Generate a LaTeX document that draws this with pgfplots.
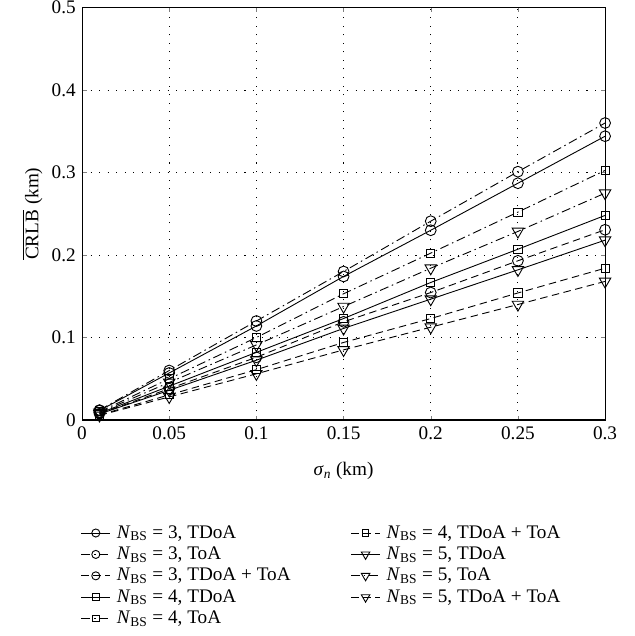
\documentclass[border=0pt,12pt]{standalone}
\usepackage{pgfplots}
\pgfplotsset{compat=1.18}
\usepackage{fontspec}
\setmainfont{Liberation Serif}
\newcommand{\NBS}{\textit{N}\textsubscript{BS}}
\begin{document}
\begin{tikzpicture}[font=\fontsize{12.8}{15}\selectfont]
\useasboundingbox (-54.7pt,-144pt) rectangle ++(423.3pt,424pt);
\begin{axis}[
  at={(0,0)}, anchor=south west,
  scale only axis,
  width=348.7pt, height=275pt,
  xmin=0, xmax=0.3, ymin=0, ymax=0.5,
  xtick={0,0.05,0.1,0.15,0.2,0.25,0.3},
  ytick={0,0.1,0.2,0.3,0.4,0.5},
  xticklabels={0,0.05,0.1,0.15,0.2,0.25,0.3},
  yticklabels={0,0.1,0.2,0.3,0.4,0.5},
  tick align=inside,
  major tick length=3pt,
  grid=major,
  major grid style={black, line width=0.6pt, dash pattern=on 0.7pt off 5pt},
  axis line style={line width=0.7pt},
  xlabel={\textit{σ}\textsubscript{\textit{n}} (km)},
  xlabel style={yshift=-7pt},
  ylabel={$\overline{\mbox{CRLB}}$ (km)},
  ylabel style={yshift=-2pt},
  every axis plot/.append style={black, line width=0.6pt},
  legend columns=2,
  legend cell align=left,
  legend style={at={(0.0,-0.24)}, anchor=north west, draw=none, xshift=-4pt,
    /tikz/every even column/.append style={column sep=38pt},
    /tikz/every odd column/.append style={column sep=2pt},
    row sep=0pt},
  legend image code/.code={\draw[mark repeat=2,mark phase=2,#1] plot coordinates {(0cm,0cm) (0.34cm,0cm) (0.68cm,0cm)};},
]
% N3 TDoA
\addplot[solid, mark=o, mark size=3.6pt, mark options={solid}, legend image post style={mark size=2.7pt}] coordinates {(0.01,0.0114) (0.05,0.057) (0.1,0.114) (0.15,0.174) (0.2,0.230) (0.25,0.287) (0.3,0.344)};
% N4 TDoA+ToA
\addplot[dash pattern=on 5pt off 3pt, mark=square, mark size=2.7pt, mark options={solid}, legend image post style={mark size=2.2pt}] coordinates {(0.01,0.0061) (0.05,0.0305) (0.1,0.061) (0.15,0.094) (0.2,0.123) (0.25,0.154) (0.3,0.184)};
% N3 ToA
\addplot[dash pattern=on 6pt off 2.5pt on 1pt off 2.5pt, mark=o, mark size=3.6pt, mark options={solid}, legend image post style={mark size=2.7pt}] coordinates {(0.01,0.012) (0.05,0.060) (0.1,0.120) (0.15,0.180) (0.2,0.241) (0.25,0.301) (0.3,0.360)};
% N5 TDoA
\addplot[solid, mark=triangle, mark size=4.4pt, mark options={solid, rotate=180}, legend image post style={mark size=3.3pt}] coordinates {(0.01,0.0073) (0.05,0.036) (0.1,0.0725) (0.15,0.111) (0.2,0.1465) (0.25,0.182) (0.3,0.218)};
% N3 TDoA+ToA
\addplot[dash pattern=on 5pt off 3pt, mark=o, mark size=3.6pt, mark options={solid}, legend image post style={mark size=2.7pt}] coordinates {(0.01,0.0076) (0.05,0.038) (0.1,0.076) (0.15,0.119) (0.2,0.1545) (0.25,0.193) (0.3,0.2306)};
% N5 ToA
\addplot[dash pattern=on 6pt off 2.5pt on 1pt off 2.5pt, mark=triangle, mark size=4.4pt, mark options={solid, rotate=180}, legend image post style={mark size=3.3pt}] coordinates {(0.01,0.0091) (0.05,0.0455) (0.1,0.091) (0.15,0.1375) (0.2,0.184) (0.25,0.2286) (0.3,0.275)};
% N4 TDoA
\addplot[solid, mark=square, mark size=2.7pt, mark options={solid}, legend image post style={mark size=2.2pt}] coordinates {(0.01,0.0082) (0.05,0.041) (0.1,0.082) (0.15,0.123) (0.2,0.1667) (0.25,0.207) (0.3,0.248)};
% N5 TDoA+ToA
\addplot[dash pattern=on 5pt off 3pt, mark=triangle, mark size=4.4pt, mark options={solid, rotate=180}, legend image post style={mark size=3.3pt}] coordinates {(0.01,0.0056) (0.05,0.028) (0.1,0.056) (0.15,0.085) (0.2,0.1125) (0.25,0.140) (0.3,0.168)};
% N4 ToA
\addplot[dash pattern=on 6pt off 2.5pt on 1pt off 2.5pt, mark=square, mark size=2.7pt, mark options={solid}, legend image post style={mark size=2.2pt}] coordinates {(0.01,0.010) (0.05,0.050) (0.1,0.100) (0.15,0.153) (0.2,0.2023) (0.25,0.252) (0.3,0.3026)};
\legend{{\NBS{} = 3, TDoA},{\NBS{} = 4, TDoA + ToA},
        {\NBS{} = 3, ToA},{\NBS{} = 5, TDoA},
        {\NBS{} = 3, TDoA + ToA},{\NBS{} = 5, ToA},
        {\NBS{} = 4, TDoA},{\NBS{} = 5, TDoA + ToA},
        {\NBS{} = 4, ToA}}
\end{axis}
\end{tikzpicture}
\end{document}
